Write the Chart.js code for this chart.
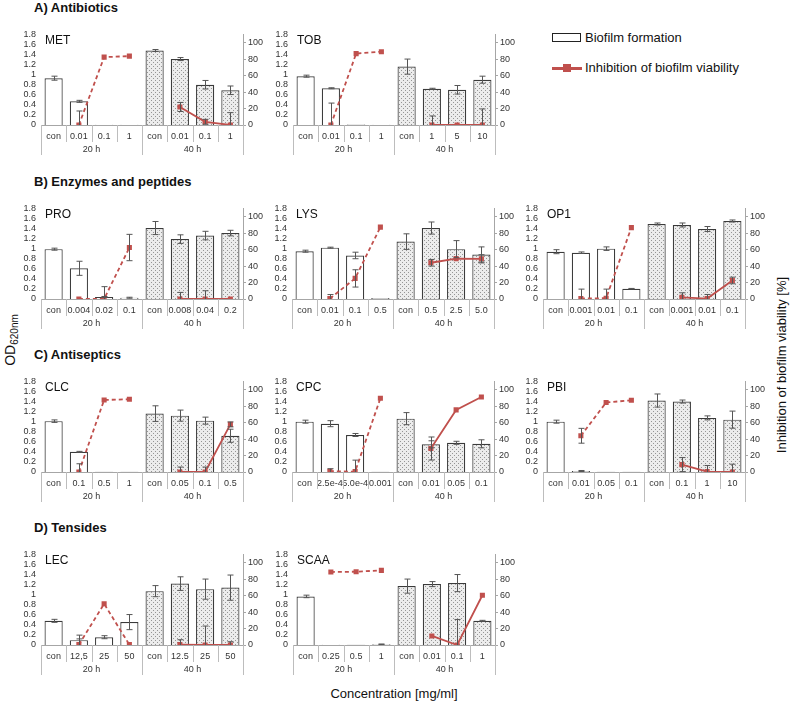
<!DOCTYPE html>
<html>
<head>
<meta charset="utf-8">
<script src="https://cdn.jsdelivr.net/npm/chart.js@4.4.1/dist/chart.umd.min.js"></script>
<style>
    body { margin: 0; background: #fff; font-family: "Liberation Sans", Arial, sans-serif; color: #111; }
    #page { position: relative; width: 791px; height: 704px; overflow: hidden; }
    .panel { position: absolute; }
    .section { position: absolute; left: 34px; font-weight: bold; font-size: 13px; line-height: 13px; white-space: nowrap; }
    .axis-title { position: absolute; font-size: 13px; white-space: nowrap; transform: translate(-50%, -50%); }
    .rot { transform: translate(-50%, -50%) rotate(-90deg); }
    .legend-row { position: absolute; left: 552px; height: 16px; font-size: 13px; line-height: 16px; white-space: nowrap; }
    .legend-box { position: absolute; left: 0; top: 3px; width: 27px; height: 7px; border: 1.5px solid #222; }
    .legend-line { position: absolute; left: 0; top: 6.5px; width: 30px; height: 3px; background: #c0504d; }
    .legend-mark { position: absolute; left: 11px; top: 4px; width: 8px; height: 8px; background: #c0504d; }
    .legend-text { position: absolute; left: 33px; top: 0; }
</style>
</head>
<body>
<div id="page">
    <div class="section" style="top:1px">A) Antibiotics</div>
    <div class="section" style="top:175px">B) Enzymes and peptides</div>
    <div class="section" style="top:348px">C) Antiseptics</div>
    <div class="section" style="top:521px">D) Tensides</div>

    <div class="legend-row" style="top:30px">
        <div class="legend-box"></div>
        <div class="legend-text">Biofilm formation</div>
    </div>
    <div class="legend-row" style="top:60px">
        <div class="legend-line"></div>
        <div class="legend-mark"></div>
        <div class="legend-text">Inhibition of biofilm viability</div>
    </div>

    <div class="axis-title rot" style="left:11px; top:340px; font-size:14px">OD<sub style="font-size:10px">620nm</sub></div>
    <div class="axis-title rot" style="left:781px; top:365px">Inhibition of biofilm viability [%]</div>
    <div class="axis-title" style="left:394px; top:693px">Concentration [mg/ml]</div>
</div>

<script>
const RED = '#c0504d';

const groupLabels = ['20 h', '40 h'];
const odTicks = [0, 0.2, 0.4, 0.6, 0.8, 1, 1.2, 1.4, 1.6, 1.8];
const inhTicks = [0, 20, 40, 60, 80, 100];

// A) Antibiotics
const metLabels = ['con', '0.01', '0.1', '1', 'con', '0.01', '0.1', '1'];
const metOd = [0.93, 0.47, 0.005, 0.005, 1.48, 1.31, 0.80, 0.69];
const metOdErr = [0.04, 0.02, 0, 0, 0.02, 0.03, 0.085, 0.085];
const metInh = [null, 0, 82.4, 83.6, null, 21.9, 3.9, 0];
const metInhErr = [0, 17, 0, 0, 0, 5.5, 3, 15];

const tobLabels = ['con', '0.01', '0.1', '1', 'con', '1', '5', '10'];
const tobOd = [0.97, 0.73, 0.01, 0.005, 1.16, 0.72, 0.70, 0.90];
const tobOdErr = [0.02, 0.01, 0, 0, 0.15, 0.01, 0.085, 0.07];
const tobInh = [null, 0, 86.7, 89, null, 0, 0, 0];
const tobInhErr = [0, 26.6, 0, 0, 0, 11, 0, 19.5];

// B) Enzymes and peptides
const proLabels = ['con', '0.004', '0.02', '0.1', 'con', '0.008', '0.04', '0.2'];
const proOd = [0.99, 0.61, 0.04, 0.025, 1.41, 1.19, 1.26, 1.31];
const proOdErr = [0.02, 0.14, 0.01, 0.01, 0.13, 0.085, 0.085, 0.055];
const proInh = [null, 0, 0, 62.5, null, 0, 0, 0];
const proInhErr = [0, 0, 15, 16, 0, 8, 10, 0];

const lysLabels = ['con', '0.01', '0.1', '0.5', 'con', '0.5', '2.5', '5.0'];
const lysOd = [0.95, 1.02, 0.865, 0.02, 1.14, 1.41, 0.99, 0.885];
const lysOdErr = [0.02, 0.01, 0.065, 0, 0.155, 0.12, 0.17, 0.15];
const lysInh = [null, 0.4, 25, 87.3, null, 44, 49, 48.8];
const lysInhErr = [0, 5, 10.5, 0, 0, 4, 0, 5];

const op1Labels = ['con', '0.001', '0.01', '0.1', 'con', '0.001', '0.01', '0.1'];
const op1Od = [0.94, 0.92, 1.0, 0.205, 1.49, 1.47, 1.39, 1.55];
const op1OdErr = [0.04, 0.015, 0.035, 0.005, 0.02, 0.04, 0.05, 0.02];
const op1Inh = [null, 0.5, 1, 86.7, null, 2, 0.5, 22.5];
const op1InhErr = [0, 11.5, 11, 0, 0, 5.5, 5, 4];

// C) Antiseptics
const clcLabels = ['con', '0.1', '0.5', '1', 'con', '0.05', '0.1', '0.5'];
const clcOd = [1.01, 0.40, 0.003, 0.003, 1.16, 1.12, 1.02, 0.72];
const clcOdErr = [0.025, 0.01, 0, 0, 0.155, 0.11, 0.07, 0.13];
const clcInh = [null, 0, 87.5, 88.3, null, 0, 0, 57.8];
const clcInhErr = [0, 10, 0, 0, 0, 6, 6, 3];

const cpcLabels = ['con', '2.5e-4', '5.0e-4', '0.001', 'con', '0.01', '0.05', '0.1'];
const cpcOd = [1.0, 0.96, 0.735, 0.003, 1.06, 0.55, 0.58, 0.56];
const cpcOdErr = [0.03, 0.06, 0.03, 0, 0.12, 0.07, 0.03, 0.08];
const cpcInh = [null, 1, 0.4, 89.5, null, 28.5, 75.4, 91];
const cpcInhErr = [0, 3, 14, 0, 0, 14, 0, 0];

const pbiLabels = ['con', '0.01', '0.05', '0.1', 'con', '0.1', '1', '10'];
const pbiOd = [1.0, 0.02, 0.003, 0.003, 1.42, 1.40, 1.075, 1.04];
const pbiOdErr = [0.03, 0.01, 0, 0, 0.13, 0.03, 0.04, 0.17];
const pbiInh = [null, 44, 84.4, 87.1, null, 9, 0.4, 0];
const pbiInhErr = [0, 9, 0, 0, 0, 8.5, 7.5, 9.5];

// D) Tensides
const lecLabels = ['con', '12,5', '25', '50', 'con', '12.5', '25', '50'];
const lecOd = [0.48, 0.096, 0.155, 0.455, 1.07, 1.22, 1.11, 1.14];
const lecOdErr = [0.03, 0.1, 0.03, 0.15, 0.11, 0.135, 0.2, 0.25];
const lecInh = [null, 0.4, 50, 0.4, null, 0.4, 0, 0];
const lecInhErr = [0, 7, 0, 0, 0, 6, 23, 4];

const scaaLabels = ['con', '0.25', '0.5', '1', 'con', '0.01', '0.1', '1'];
const scaaOd = [0.965, 0.005, 0.003, 0.015, 1.17, 1.21, 1.23, 0.48];
const scaaOdErr = [0.025, 0, 0, 0.005, 0.14, 0.05, 0.17, 0.01];
const scaaInh = [null, 88.6, 89, 90.6, null, 11, 0, 60.4];
const scaaInhErr = [0, 0, 0, 0, 0, 0, 31, 0];

const panels = [
    { name: 'MET', labels: metLabels, od: metOd, odErr: metOdErr, inh: metInh, inhErr: metInhErr },
    { name: 'TOB', labels: tobLabels, od: tobOd, odErr: tobOdErr, inh: tobInh, inhErr: tobInhErr },
    { name: 'PRO', labels: proLabels, od: proOd, odErr: proOdErr, inh: proInh, inhErr: proInhErr },
    { name: 'LYS', labels: lysLabels, od: lysOd, odErr: lysOdErr, inh: lysInh, inhErr: lysInhErr },
    { name: 'OP1', labels: op1Labels, od: op1Od, odErr: op1OdErr, inh: op1Inh, inhErr: op1InhErr },
    { name: 'CLC', labels: clcLabels, od: clcOd, odErr: clcOdErr, inh: clcInh, inhErr: clcInhErr },
    { name: 'CPC', labels: cpcLabels, od: cpcOd, odErr: cpcOdErr, inh: cpcInh, inhErr: cpcInhErr },
    { name: 'PBI', labels: pbiLabels, od: pbiOd, odErr: pbiOdErr, inh: pbiInh, inhErr: pbiInhErr },
    { name: 'LEC', labels: lecLabels, od: lecOd, odErr: lecOdErr, inh: lecInh, inhErr: lecInhErr },
    { name: 'SCAA', labels: scaaLabels, od: scaaOd, odErr: scaaOdErr, inh: scaaInh, inhErr: scaaInhErr }
];

// plot area top-left corner of each panel on the page
const panelPos = {
    MET: [41, 32], TOB: [293, 32],
    PRO: [41, 206], LYS: [292, 206], OP1: [543, 206],
    CLC: [41, 379], CPC: [292, 379], PBI: [543, 379],
    LEC: [41, 552], SCAA: [293, 552]
};

const PLOT_W = 202;
const PLOT_H = 93;
const LEFT_AXIS_W = 30;
const RIGHT_AXIS_W = 28;
const X_AXIS_H = 36;
const PAD_TOP = 8;

Chart.defaults.font.family = '"Liberation Sans", Arial, sans-serif';
Chart.defaults.color = '#333';

const errorBars = {
    id: 'errorBars',
    afterDatasetsDraw(chart) {
        const ctx = chart.ctx;
        chart.data.datasets.forEach((ds, di) => {
            if (!ds.errors) return;
            const meta = chart.getDatasetMeta(di);
            const scale = chart.scales[meta.yAxisID];
            meta.data.forEach((el, i) => {
                const v = ds.data[i];
                const e = ds.errors[i];
                if (v == null || !e) return;
                const x = Math.round(el.x) + 0.5;
                const yTop = scale.getPixelForValue(v + e);
                const low = v - e;
                const yLow = scale.getPixelForValue(Math.max(low, 0));
                ctx.save();
                ctx.strokeStyle = '#555';
                ctx.lineWidth = 1;
                ctx.beginPath();
                ctx.moveTo(x, yTop);
                ctx.lineTo(x, yLow);
                ctx.moveTo(x - 3, yTop);
                ctx.lineTo(x + 3, yTop);
                if (low >= 0) {
                    ctx.moveTo(x - 3, yLow);
                    ctx.lineTo(x + 3, yLow);
                }
                ctx.stroke();
                ctx.restore();
            });
        });
    }
};

const categoryGroups = {
    id: 'categoryGroups',
    afterDraw(chart) {
        const ctx = chart.ctx;
        const xs = chart.scales.x;
        const base = xs.top;
        const n = chart.data.labels.length;
        const step = (xs.right - xs.left) / n;
        ctx.save();
        ctx.strokeStyle = '#bdbdbd';
        ctx.lineWidth = 1;
        ctx.beginPath();
        for (let i = 0; i <= n; i++) {
            const px = Math.round(xs.left + i * step) + 0.5;
            const len = i % 4 === 0 ? 30 : 17;
            ctx.moveTo(px, base);
            ctx.lineTo(px, base + len);
        }
        ctx.stroke();

        ctx.fillStyle = '#333';
        ctx.font = '9px "Liberation Sans", Arial';
        ctx.textAlign = 'center';
        ctx.textBaseline = 'middle';
        groupLabels.forEach((g, k) => {
            const cx = (xs.getPixelForValue(k * 4 + 1) + xs.getPixelForValue(k * 4 + 2)) / 2;
            ctx.fillText(g, cx, base + 25);
        });

        // panel name in the top-left corner of the plot
        ctx.fillStyle = '#111';
        ctx.font = '12px "Liberation Sans", Arial';
        ctx.textAlign = 'left';
        ctx.textBaseline = 'alphabetic';
        ctx.fillText(chart.options.plugins.panelName, chart.chartArea.left + 4, chart.chartArea.top + 9.5);
        ctx.restore();
    }
};

function makeDotPattern(ctx) {
    const c = document.createElement('canvas');
    c.width = 4;
    c.height = 4;
    const g = c.getContext('2d');
    g.fillStyle = '#ececec';
    g.fillRect(0, 0, 4, 4);
    g.fillStyle = '#959595';
    g.fillRect(0, 0, 1, 1);
    g.fillRect(2, 2, 1, 1);
    return ctx.createPattern(c, 'repeat');
}

function makePanel(p) {
    const [px, py] = panelPos[p.name];
    const w = LEFT_AXIS_W + PLOT_W + RIGHT_AXIS_W;
    const h = PAD_TOP + PLOT_H + X_AXIS_H;

    const wrap = document.createElement('div');
    wrap.className = 'panel';
    wrap.style.left = (px - LEFT_AXIS_W) + 'px';
    wrap.style.top = (py - PAD_TOP) + 'px';
    wrap.style.width = w + 'px';
    wrap.style.height = h + 'px';
    const canvas = document.createElement('canvas');
    canvas.width = w;
    canvas.height = h;
    wrap.appendChild(canvas);
    document.getElementById('page').appendChild(wrap);

    const ctx = canvas.getContext('2d');
    const dotted = makeDotPattern(ctx);

    const in20 = (i) => i >= 1 && i <= 3;
    const in40 = (i) => i >= 5;
    const line20 = p.inh.map((v, i) => in20(i) ? v : null);
    const line40 = p.inh.map((v, i) => in40(i) ? v : null);
    const err20 = p.inhErr.map((v, i) => in20(i) ? v : 0);
    const err40 = p.inhErr.map((v, i) => in40(i) ? v : 0);

    const lineStyle = {
        type: 'line',
        yAxisID: 'y2',
        borderColor: RED,
        backgroundColor: RED,
        borderWidth: 1.8,
        pointStyle: 'rect',
        pointRadius: 3.6,
        pointBorderWidth: 0,
        tension: 0,
        spanGaps: false,
        order: 0
    };

    new Chart(ctx, {
        data: {
            labels: p.labels,
            datasets: [
                Object.assign({}, lineStyle, { data: line20, errors: err20, borderDash: [4, 3] }),
                Object.assign({}, lineStyle, { data: line40, errors: err40 }),
                {
                    type: 'bar',
                    yAxisID: 'y',
                    data: p.od,
                    errors: p.odErr,
                    backgroundColor: p.od.map((v, i) => i < 4 ? '#ffffff' : dotted),
                    borderColor: '#3a3a3a',
                    borderWidth: 1.2,
                    barPercentage: 0.72,
                    categoryPercentage: 1,
                    order: 1
                }
            ]
        },
        options: {
            responsive: false,
            animation: false,
            devicePixelRatio: 1,
            layout: { padding: { top: PAD_TOP, left: 0, right: 0, bottom: 0 } },
            plugins: {
                legend: { display: false },
                tooltip: { enabled: false },
                panelName: p.name
            },
            scales: {
                x: {
                    offset: true,
                    grid: { display: false, drawTicks: false, tickLength: 0 },
                    border: { display: true, color: '#a6a6a6' },
                    ticks: { font: { size: 9 }, padding: 6, autoSkip: false, maxRotation: 0, minRotation: 0 },
                    afterFit: (s) => { s.height = X_AXIS_H; }
                },
                y: {
                    position: 'left',
                    min: 0,
                    max: 1.8,
                    grid: { display: false, drawTicks: false, tickLength: 0 },
                    border: { display: false },
                    ticks: {
                        autoSkip: false,
                        font: { size: 9 },
                        padding: 5,
                        callback: (v) => String(Math.round(v * 10) / 10)
                    },
                    afterBuildTicks: (s) => { s.ticks = odTicks.map(v => ({ value: v })); },
                    afterFit: (s) => { s.width = LEFT_AXIS_W; }
                },
                y2: {
                    position: 'right',
                    min: 0,
                    max: 110,
                    grid: { display: true, drawOnChartArea: false, tickLength: 3, color: '#a6a6a6' },
                    border: { display: true, color: '#a6a6a6' },
                    ticks: { autoSkip: false, font: { size: 9 }, padding: 2 },
                    afterBuildTicks: (s) => { s.ticks = inhTicks.map(v => ({ value: v })); },
                    afterFit: (s) => { s.width = RIGHT_AXIS_W; }
                }
            }
        },
        plugins: [errorBars, categoryGroups]
    });
}

panels.forEach(makePanel);
</script>
</body>
</html>
